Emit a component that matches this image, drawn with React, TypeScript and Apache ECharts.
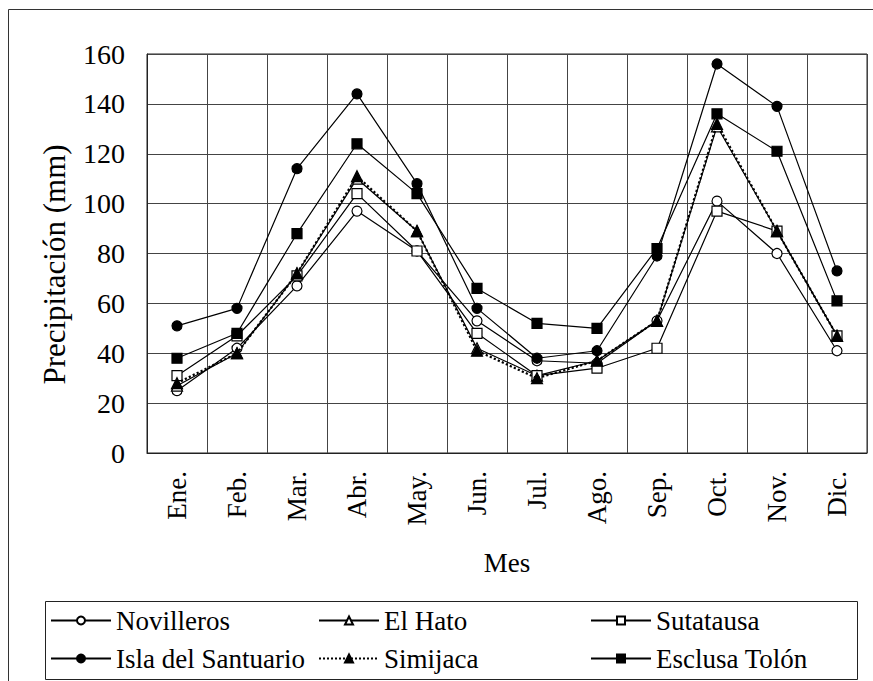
import React, { useEffect, useRef } from "react";
import * as echarts from "echarts";

const months = ["Ene.", "Feb.", "Mar.", "Abr.", "May.", "Jun.", "Jul.", "Ago.", "Sep.", "Oct.", "Nov.", "Dic."];
const novilleros = [25, 42, 67, 97, 81, 53, 37, 36, 53, 101, 80, 41];
const elHato = [27, 40, 72, 110, 89, 42, 31, 37, 53, 131, 89, 47];
const sutatausa = [31, 47, 71, 104, 81, 48, 31, 34, 42, 97, 89, 47];
const islaSantuario = [51, 58, 114, 144, 108, 58, 38, 41, 79, 156, 139, 73];
const simijaca = [28, 40, 72, 111, 89, 41, 30, 37, 53, 132, 89, 47];
const esclusaTolon = [38, 48, 88, 124, 104, 66, 52, 50, 82, 136, 121, 61];
const yTicks = { min: 0, max: 160, interval: 20 };

const FONT = "Times New Roman, Liberation Serif, serif";

export default function App() {
  const ref = useRef<HTMLDivElement>(null);
  useEffect(() => {
    if (!ref.current) return;
    const chart = echarts.init(ref.current, null, { renderer: "svg" });
    const mk = (name: string, data: number[], symbol: string, filled: boolean, dotted = false, z = 2) => ({
      name,
      type: "line",
      data,
      symbol,
      symbolSize: symbol === "triangle" ? 11 : 10,
      showSymbol: true,
      z,
      lineStyle: { color: "#000", width: dotted ? 2.2 : 1.2, type: dotted ? "dotted" : "solid" },
      itemStyle: { color: filled ? "#000" : "#fff", borderColor: "#000", borderWidth: 1.2 },
      emphasis: { disabled: true },
    });
    const legendItem = (name: string, left: number, top: number) => ({
      data: [name],
      left,
      top,
      orient: "horizontal",
      itemWidth: 60,
      itemHeight: 10,
      padding: 0,
      selectedMode: false,
      textStyle: { fontSize: 27, fontFamily: FONT, color: "#000" },
    });
    chart.setOption({
      animation: false,
      backgroundColor: "#fff",
      textStyle: { fontFamily: FONT, color: "#000" },
      grid: { left: 147, top: 54, width: 720, height: 399, show: true, borderColor: "#222", borderWidth: 1, backgroundColor: "transparent" },
      xAxis: {
        type: "category",
        data: months,
        boundaryGap: true,
        name: "Mes",
        nameLocation: "middle",
        nameGap: 96,
        nameTextStyle: { fontSize: 27, fontFamily: FONT, color: "#000" },
        axisLine: { show: true, lineStyle: { color: "#222", width: 1 } },
        axisTick: { show: false },
        axisLabel: { rotate: 90, margin: 18, fontSize: 27, fontFamily: FONT, color: "#000" },
        splitLine: { show: true, lineStyle: { color: "#444", width: 1 } },
      },
      yAxis: {
        type: "value",
        min: yTicks.min,
        max: yTicks.max,
        interval: yTicks.interval,
        name: "Precipitación (mm)",
        nameLocation: "middle",
        nameGap: 77,
        nameTextStyle: { fontSize: 31, fontFamily: FONT, color: "#000", padding: [0, 22, 0, 0] },
        axisLine: { show: true, lineStyle: { color: "#222", width: 1 } },
        axisTick: { show: false },
        axisLabel: { margin: 22, fontSize: 28, fontFamily: FONT, color: "#000" },
        splitLine: { show: true, lineStyle: { color: "#444", width: 1 } },
      },
      legend: [
        legendItem("Novilleros", 50, 607),
        legendItem("El Hato", 318, 607),
        legendItem("Sutatausa", 590, 607),
        legendItem("Isla del Santuario", 50, 645),
        legendItem("Simijaca", 318, 645),
        legendItem("Esclusa Tolón", 590, 645),
      ],
      graphic: [
        { type: "rect", left: 6, top: 7, shape: { x: 0, y: 0, width: 880, height: 700 }, style: { fill: "none", stroke: "#333", lineWidth: 1 }, silent: true, z: -1 },
        { type: "rect", left: 43, top: 599, shape: { x: 0, y: 0, width: 812, height: 78 }, style: { fill: "none", stroke: "#222", lineWidth: 1 }, silent: true },
      ],
      series: [
        mk("Novilleros", novilleros, "circle", false, false, 2),
        mk("El Hato", elHato, "triangle", false, false, 2),
        mk("Sutatausa", sutatausa, "rect", false, false, 3),
        mk("Isla del Santuario", islaSantuario, "circle", true, false, 3),
        mk("Simijaca", simijaca, "triangle", true, true, 4),
        mk("Esclusa Tolón", esclusaTolon, "rect", true, false, 4),
      ],
    });
    return () => chart.dispose();
  }, []);
  return (
    <div
      ref={ref}
      style={{ position: "fixed", left: 0, top: 0, width: 873, height: 681, background: "#fff" }}
    />
  );
}
